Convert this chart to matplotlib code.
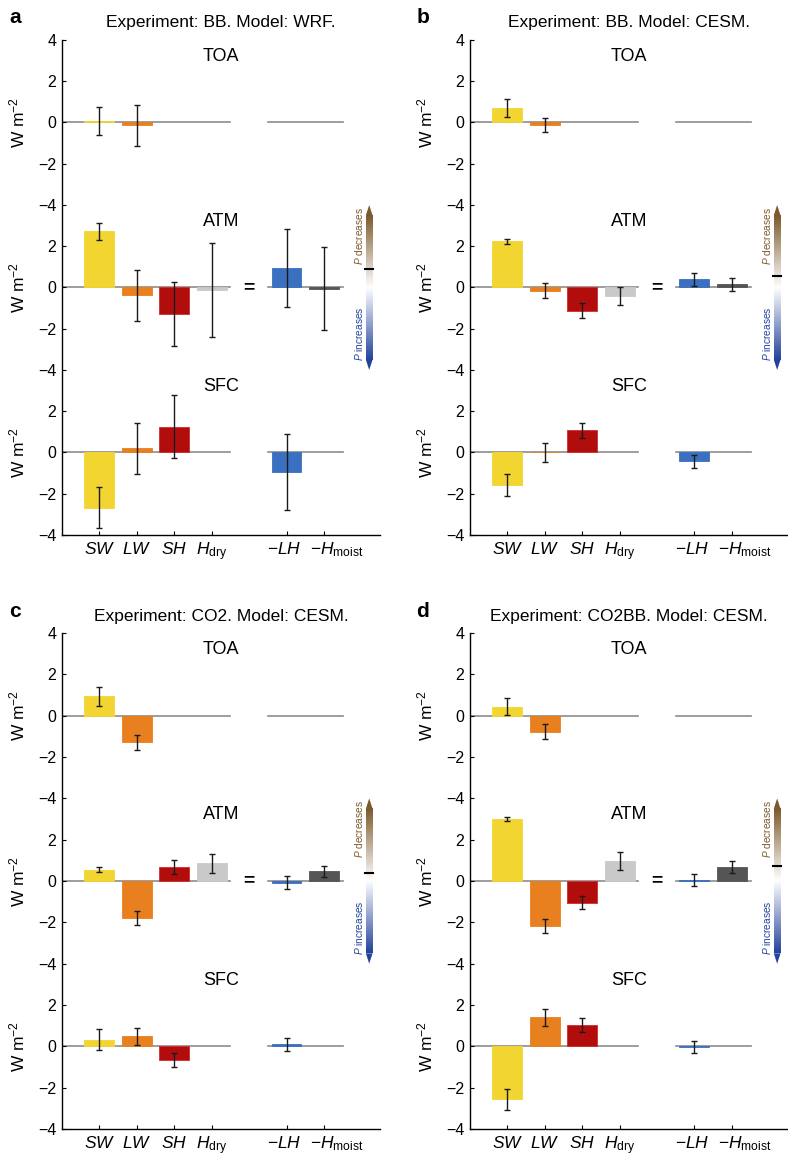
import numpy as np
import matplotlib
matplotlib.use("Agg")
import matplotlib.pyplot as plt
from matplotlib.colors import LinearSegmentedColormap
from matplotlib.patches import Polygon
from matplotlib.transforms import blended_transform_factory

plt.rcParams['font.family'] = ['Liberation Sans', 'DejaVu Sans']
plt.rcParams['mathtext.fontset'] = 'custom'
plt.rcParams['mathtext.rm'] = 'Liberation Sans'
plt.rcParams['mathtext.it'] = 'Liberation Sans:italic'

nan = np.nan

# x categories (position 5 is the "=" gap)
categories = [r'$SW$', r'$LW$', r'$SH$', r'$H_{\mathrm{dry}}$',
              '\u2212' + r'$LH$', '\u2212' + r'$H_{\mathrm{moist}}$']
positions = [1, 2, 3, 4, 6, 7]
bar_colors = ['#f3d531', '#e8801f', '#b20d0d', '#c9c9c9', '#3b6fc0', '#555555']
sections = ['TOA', 'ATM', 'SFC']

titles = ['Experiment: BB. Model: WRF.', 'Experiment: BB. Model: CESM.',
          'Experiment: CO2. Model: CESM.', 'Experiment: CO2BB. Model: CESM.']
letters = ['a', 'b', 'c', 'd']

# rows: TOA, ATM, SFC ; columns: SW, LW, SH, Hdry, -LH, -Hmoist
a_values = [[0.08, -0.14, nan, nan, nan, nan],
            [2.72, -0.38, -1.30, -0.12, 0.95, -0.05],
            [-2.68, 0.20, 1.26, nan, -0.95, nan]]
a_errors = [[0.68, 0.98, nan, nan, nan, nan],
            [0.41, 1.25, 1.56, 2.29, 1.88, 2.00],
            [0.99, 1.22, 1.55, nan, 1.86, nan]]

b_values = [[0.72, -0.13, nan, nan, nan, nan],
            [2.24, -0.16, -1.12, -0.42, 0.39, 0.15],
            [-1.58, 0.0, 1.08, nan, -0.43, nan]]
b_errors = [[0.44, 0.34, nan, nan, nan, nan],
            [0.12, 0.36, 0.36, 0.43, 0.33, 0.30],
            [0.52, 0.44, 0.37, nan, 0.30, nan]]

c_values = [[0.93, -1.28, nan, nan, nan, nan],
            [0.55, -1.78, 0.67, 0.86, -0.08, 0.47],
            [0.33, 0.48, -0.67, nan, 0.09, nan]]
c_errors = [[0.45, 0.36, nan, nan, nan, nan],
            [0.12, 0.35, 0.34, 0.45, 0.31, 0.28],
            [0.53, 0.42, 0.35, nan, 0.30, nan]]

d_values = [[0.44, -0.78, nan, nan, nan, nan],
            [2.99, -2.16, -1.04, 0.95, 0.05, 0.68],
            [-2.57, 1.40, 1.04, nan, -0.03, nan]]
d_errors = [[0.43, 0.36, nan, nan, nan, nan],
            [0.10, 0.34, 0.32, 0.44, 0.31, 0.27],
            [0.50, 0.43, 0.34, nan, 0.30, nan]]

all_values = [a_values, b_values, c_values, d_values]
all_errors = [a_errors, b_errors, c_errors, d_errors]

offsets = [8, 0, -8]
brown = '#7d5a2d'
blue = '#23449c'
cmap = LinearSegmentedColormap.from_list('pcol', [blue, '#ffffff', brown])

fig = plt.figure(figsize=(7.88, 11.59), dpi=100)
ax_rects = [(0.0787, 0.5384, 0.4036, 0.4271), (0.5964, 0.5384, 0.4036, 0.4271),
            (0.0787, 0.0259, 0.4036, 0.4279), (0.5964, 0.0259, 0.4036, 0.4279)]
# horizontal nudge (points) and alignment of the x labels
label_shift = [0, 0, 0, 0, -1.5, -10]
label_ha = ['center', 'center', 'center', 'center', 'center', 'left']

for k in range(4):
    ax = fig.add_axes(ax_rects[k])
    vals = all_values[k]
    errs = all_errors[k]
    for s, off in enumerate(offsets):
        ax.plot([0, 4.5], [off, off], color='#8c8c8c', lw=1.2, zorder=1)
        ax.plot([5.5, 7.5], [off, off], color='#8c8c8c', lw=1.2, zorder=1)
        v = np.array(vals[s], dtype=float)
        e = np.array(errs[s], dtype=float)
        for i, p in enumerate(positions):
            if np.isnan(v[i]):
                continue
            ec = '#d42a2a' if i == 2 else bar_colors[i]
            ax.bar(p, v[i], bottom=off, width=0.8, color=bar_colors[i],
                   edgecolor=ec, linewidth=0.6, zorder=2)
            ax.errorbar(p, off + v[i], yerr=e[i], fmt='none', ecolor='#1a1a1a',
                        elinewidth=1.0, capsize=2, capthick=1.0, zorder=3)
        ax.text(4.25, off + 3.2, sections[s], ha='center', va='center', fontsize=13)
        trans = blended_transform_factory(ax.transAxes, ax.transData)
        ax.text(-0.14, off, r'W m$^{-2}$', rotation=90, ha='center', va='center',
                fontsize=12.5, transform=trans)

    ax.text(5, 0, '=', ha='center', va='center', fontsize=14, fontweight='bold')

    # precipitation colour bar
    x0, x1 = 8.12, 8.30
    grad = np.linspace(1, 0, 200).reshape(-1, 1)
    ax.imshow(grad, cmap=cmap, extent=[x0, x1, -3.5, 3.5], aspect='auto', zorder=2)
    ax.add_patch(Polygon([[x0, 3.5], [x1, 3.5], [(x0 + x1) / 2, 4.0]],
                         closed=True, color=brown, lw=0, zorder=2))
    ax.add_patch(Polygon([[x0, -3.5], [x1, -3.5], [(x0 + x1) / 2, -4.0]],
                         closed=True, color=blue, lw=0, zorder=2))
    mark = vals[1][4] + vals[1][5]
    ax.plot([x0 - 0.01, x1 + 0.01], [mark, mark], color='black', lw=1.5, zorder=3)
    ax.text(7.93, 2.5, r'$P$ decreases', rotation=90, ha='center', va='center',
            fontsize=7.3, color=brown)
    ax.text(7.93, -2.25, r'$P$ increases', rotation=90, ha='center', va='center',
            fontsize=7.3, color=blue)

    ax.set_xlim(0, 8.5)
    ax.set_ylim(-12, 12)
    ax.set_xticks(positions)
    ax.set_xticklabels([])
    xtrans = blended_transform_factory(ax.transData, ax.transAxes)
    for p, lab, dx, ha in zip(positions, categories, label_shift, label_ha):
        ax.annotate(lab, xy=(p, 0), xycoords=xtrans, xytext=(dx, -4),
                    textcoords='offset points', ha=ha, va='top', fontsize=12.5)
    yt = [12, 10, 8, 6, 4, 2, 0, -2, -4, -6, -8, -10, -12]
    ylab = ['4', '2', '0', '\u22122', '\u22124', '2', '0', '\u22122', '\u22124',
            '2', '0', '\u22122', '\u22124']
    ax.set_yticks(yt)
    ax.set_yticklabels(ylab, fontsize=11.5)
    ax.tick_params(direction='in', length=3, width=0.8, pad=4)
    for sp in ['top', 'right']:
        ax.spines[sp].set_visible(False)
    for sp in ['left', 'bottom']:
        ax.spines[sp].set_linewidth(1.0)
    ax.set_title(titles[k], fontsize=12.5, pad=9)
    fig.text(ax_rects[k][0] - 0.06, ax_rects[k][1] + ax_rects[k][3] + 0.019,
             letters[k], fontsize=15, fontweight='bold', ha='center', va='center')

fig.savefig('out.png', dpi=100)
